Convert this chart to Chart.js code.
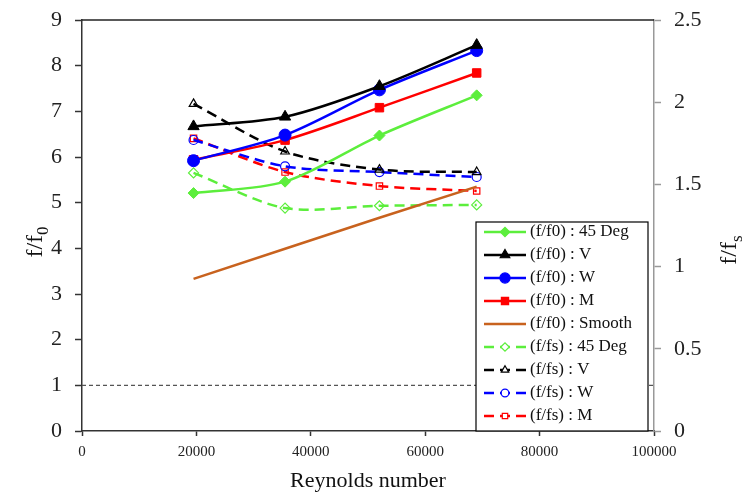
<!DOCTYPE html>
<html>
<head>
<meta charset="utf-8">
<script src="https://cdn.jsdelivr.net/npm/chart.js@4/dist/chart.umd.min.js"></script>
<style>
  html, body { margin: 0; padding: 0; background: #fff; }
  #wrap { width: 746px; height: 498px; }
</style>
</head>
<body>
<div id="wrap"><canvas id="chart"></canvas></div>
<script>
// Reynolds numbers (x)
const reynolds = [19500, 35500, 52000, 69000];

// f/f0 series (left axis)
const f0Deg45 = [5.21, 5.46, 6.47, 7.35];
const f0V = [6.67, 6.88, 7.55, 8.45];
const f0W = [5.92, 6.48, 7.47, 8.33];
const f0M = [5.94, 6.37, 7.08, 7.84];
const f0Smooth = [3.33, 3.99, 4.67, 5.35];

// f/fs series (right axis)
const fsDeg45 = [1.57, 1.356, 1.37, 1.375];
const fsV = [1.99, 1.70, 1.59, 1.575];
const fsW = [1.77, 1.61, 1.575, 1.545];
const fsM = [1.78, 1.575, 1.49, 1.46];

// reference line f/f0 = 1
const refX = [0, 100000];
const refY = [1, 1];

const xTicks = [0, 20000, 40000, 60000, 80000, 100000];
const leftTicks = [0, 1, 2, 3, 4, 5, 6, 7, 8, 9];
const rightTicks = [0, 0.5, 1, 1.5, 2, 2.5];

const FONT = '"Liberation Serif", "DejaVu Serif", serif';
const GREEN = '#5cee3c';
const BROWN = '#c8621e';

function pts(ys) {
    return reynolds.map((x, i) => ({ x: x, y: ys[i] }));
}

function solid(label, ys, color, style, radius) {
    return {
        label: label, data: pts(ys), yAxisID: 'y',
        borderColor: color, backgroundColor: color,
        borderWidth: 2.5, tension: 0.3,
        pointStyle: style, pointRadius: radius, pointBorderWidth: 1,
        pointBackgroundColor: color, pointBorderColor: color
    };
}

function dashed(label, ys, color, style, radius) {
    return {
        label: label, data: pts(ys), yAxisID: 'y1',
        borderColor: color, backgroundColor: '#fff',
        borderWidth: 2.5, borderDash: [10, 6], tension: 0.3,
        pointStyle: style, pointRadius: radius, pointBorderWidth: 1.2,
        pointBackgroundColor: 'rgba(255,255,255,0)', pointBorderColor: color
    };
}

const datasets = [
    solid('(f/f0) : 45 Deg', f0Deg45, GREEN, 'rectRot', 5.5),
    solid('(f/f0) : V', f0V, '#000', 'triangle', 6.5),
    solid('(f/f0) : W', f0W, '#0000ff', 'circle', 6),
    solid('(f/f0) : M', f0M, '#ff0000', 'rect', 6),
    {
        label: '(f/f0) : Smooth', data: pts(f0Smooth), yAxisID: 'y',
        borderColor: BROWN, backgroundColor: BROWN, borderWidth: 2.5,
        pointRadius: 0, pointStyle: false
    },
    dashed('(f/fs) : 45 Deg', fsDeg45, GREEN, 'rectRot', 5),
    dashed('(f/fs) : V', fsV, '#000', 'triangle', 5),
    dashed('(f/fs) : W', fsW, '#0000ff', 'circle', 4.5),
    dashed('(f/fs) : M', fsM, '#ff0000', 'rect', 4.5),
    {
        label: 'ref', data: refX.map((x, i) => ({ x: x, y: refY[i] })), yAxisID: 'y',
        borderColor: '#555', borderWidth: 1.2, borderDash: [4, 3],
        pointRadius: 0, order: 10
    }
];

// axis titles, top frame and the boxed legend inside the plot
const decor = {
    id: 'decor',
    afterDatasetsDraw(chart) {
        const ctx = chart.ctx;
        const a = chart.chartArea;
        ctx.save();
        // top frame
        ctx.strokeStyle = '#222';
        ctx.lineWidth = 1.5;
        ctx.beginPath();
        ctx.moveTo(a.left, a.top);
        ctx.lineTo(a.right, a.top);
        ctx.stroke();

        // legend box
        const bx = a.right - 178, by = a.top + 202, bw = 172, bh = a.bottom - by;
        ctx.fillStyle = '#fff';
        ctx.fillRect(bx, by, bw, bh);
        ctx.strokeStyle = '#000';
        ctx.lineWidth = 1.2;
        ctx.strokeRect(bx, by, bw, bh);

        const items = chart.data.datasets.filter(d => d.label !== 'ref');
        items.forEach((d, i) => {
            const y = by + 10 + i * 23;
            const x0 = bx + 8, x1 = bx + 50;
            ctx.save();
            ctx.strokeStyle = d.borderColor;
            ctx.lineWidth = 2.5;
            ctx.setLineDash(d.borderDash || []);
            ctx.beginPath();
            ctx.moveTo(x0, y);
            ctx.lineTo(x1, y);
            ctx.stroke();
            ctx.restore();
            if (d.pointRadius > 0) {
                ctx.save();
                ctx.setLineDash([]);
                ctx.fillStyle = d.yAxisID === 'y' ? d.pointBackgroundColor : '#fff';
                ctx.strokeStyle = d.pointBorderColor;
                Chart.helpers.drawPoint(ctx, {
                    pointStyle: d.pointStyle,
                    radius: d.pointRadius * 0.85,
                    rotation: 0,
                    borderWidth: d.pointBorderWidth
                }, (x0 + x1) / 2, y);
                ctx.restore();
            }
            ctx.fillStyle = '#111';
            ctx.font = '17px ' + FONT;
            ctx.textAlign = 'left';
            ctx.textBaseline = 'middle';
            ctx.fillText(d.label, x1 + 4, y);
        });

        // y axis titles with subscripts
        function vTitle(cx, cy, sub) {
            ctx.save();
            ctx.translate(cx, cy);
            ctx.rotate(-Math.PI / 2);
            ctx.fillStyle = '#111';
            ctx.textBaseline = 'alphabetic';
            ctx.font = '24px ' + FONT;
            const main = 'f/f';
            const w1 = ctx.measureText(main).width;
            ctx.font = '17px ' + FONT;
            const w2 = ctx.measureText(sub).width;
            const start = -(w1 + w2) / 2;
            ctx.font = '24px ' + FONT;
            ctx.textAlign = 'left';
            ctx.fillText(main, start, 8);
            ctx.font = '17px ' + FONT;
            ctx.fillText(sub, start + w1, 14);
            ctx.restore();
        }
        vTitle(34, 242, '0');
        vTitle(728, 250, 's');
        ctx.restore();
    }
};

function fixVertical(width) {
    return s => { s.width = width; s.paddingTop = 0; s.paddingBottom = 0; };
}

new Chart(document.getElementById('chart'), {
    type: 'line',
    data: { datasets: datasets },
    options: {
        responsive: true,
        maintainAspectRatio: false,
        animation: false,
        layout: { padding: { top: 20, left: 0, right: 0, bottom: 0 } },
        plugins: {
            legend: { display: false },
            tooltip: { enabled: false }
        },
        scales: {
            x: {
                type: 'linear', min: 0, max: 100000,
                afterFit: s => { s.height = 67; s.paddingLeft = 0; s.paddingRight = 0; },
                afterBuildTicks: s => { s.ticks = xTicks.map(v => ({ value: v })); },
                border: { color: '#333', width: 1.5 },
                grid: { drawOnChartArea: false, tickLength: 5, color: '#333', tickWidth: 1.5 },
                ticks: { color: '#222', font: { family: FONT, size: 15 }, padding: 7, maxRotation: 0,
                         callback: v => String(v) },
                title: { display: true, text: 'Reynolds number', color: '#111',
                         font: { family: FONT, size: 22 }, padding: { top: 0, bottom: 4 } }
            },
            y: {
                position: 'left', min: 0, max: 9,
                afterFit: fixVertical(82),
                afterBuildTicks: s => { s.ticks = leftTicks.map(v => ({ value: v })); },
                border: { color: '#333', width: 1.5 },
                grid: { drawOnChartArea: false, tickLength: 7, color: '#333', tickWidth: 1.5 },
                ticks: { color: '#222', font: { family: FONT, size: 22 }, padding: 13 }
            },
            y1: {
                position: 'right', min: 0, max: 2.5,
                afterFit: fixVertical(92),
                afterBuildTicks: s => { s.ticks = rightTicks.map(v => ({ value: v })); },
                border: { color: '#999', width: 1.5 },
                grid: { drawOnChartArea: false, tickLength: 7, color: '#999', tickWidth: 1.5 },
                ticks: { color: '#222', font: { family: FONT, size: 22 }, padding: 13,
                         callback: v => String(v) }
            }
        }
    },
    plugins: [decor]
});
</script>
</body>
</html>
